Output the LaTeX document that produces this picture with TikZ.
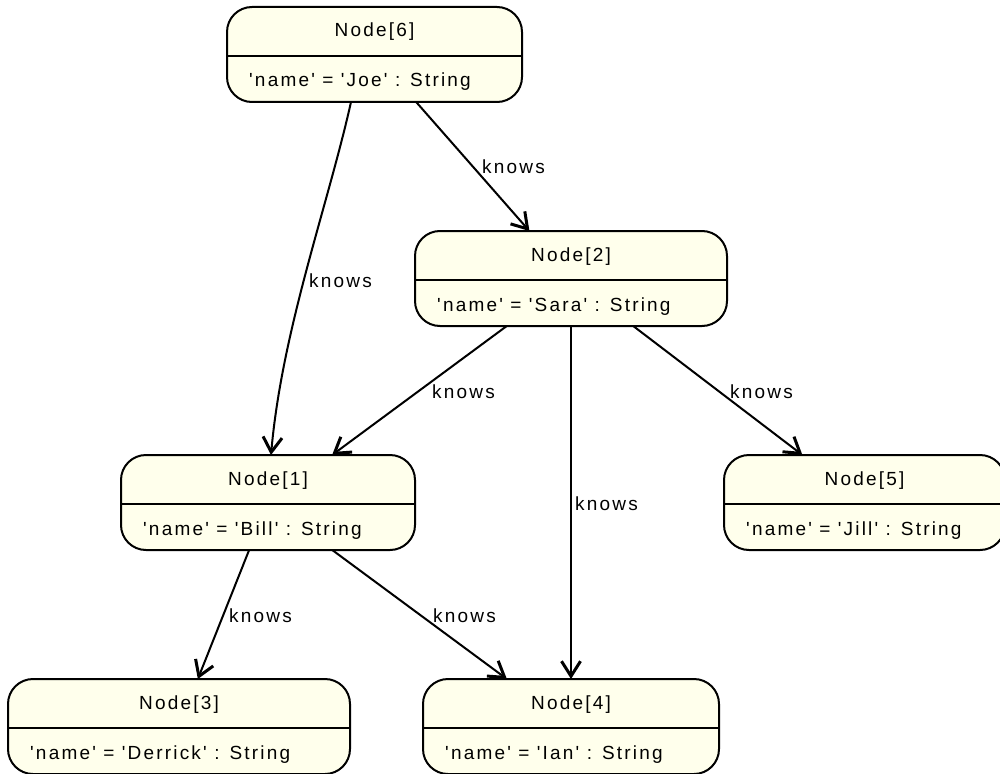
\documentclass[tikz,border=0pt]{standalone}
\usepackage{fontspec}
\setmainfont{Liberation Sans}[LetterSpace=11.5,Ligatures=TeXOff]
\usetikzlibrary{arrows.meta,calc}
\definecolor{boxfill}{RGB}{255,255,236}
\newcommand\dfont{\fontsize{19}{21}\selectfont}
% #1 name, #2 left, #3 top, #4 width, #5 title, #6 attribute
\newcommand\classbox[6]{%
  \node[umlbox, minimum width=#4pt, minimum height=95pt] (#1) at ({#2+#4/2},{#3+47.5}) {};
  \draw[divider] (#2,{#3+49}) -- ({#2+#4},{#3+49});
  \node[titletext] (#1t) at ({#2+#4/2},{#3+30}) {#5};
  \node[attrtext] (#1a) at ({#2+22},{#3+80}) {#6};
}
\begin{document}
\begin{tikzpicture}[x=1pt,y=-1pt,
  umlbox/.style={draw=black, line width=2pt, fill=boxfill, rounded corners=25pt, inner sep=0pt, outer sep=0pt},
  divider/.style={line width=2pt},
  titletext/.style={anchor=base, inner sep=0pt, font=\dfont},
  attrtext/.style={anchor=base west, inner sep=0pt, font=\dfont},
  rel/.style={line width=2pt, -{Straight Barb[length=15pt,width=19pt,line width=3pt]}},
  lbl/.style={anchor=base west, inner sep=0pt, font=\dfont}]
\useasboundingbox (0,0) rectangle (1000,773);

\classbox{n6}{227}{7}{295}{Node[6]}{'name' = 'Joe' : String}
\classbox{n2}{415}{231}{312}{Node[2]}{'name' = 'Sara' : String}
\classbox{n1}{121}{455}{294}{Node[1]}{'name' = 'Bill' : String}
\classbox{n5}{724}{455}{281}{Node[5]}{'name' = 'Jill' : String}
\classbox{n3}{8}{679}{342}{Node[3]}{'name' = 'Derrick' : String}
\classbox{n4}{423}{679}{296}{Node[4]}{'name' = 'Ian' : String}

\draw[rel] (n6) -- (n2);
\draw[rel] ([xshift=-23.5pt]n6.south) .. controls (328,205) and (282,330) .. ([xshift=3pt]n1.north);
\draw[rel] (n2) -- (n1);
\draw[rel] (n2) -- (n4);
\draw[rel] (n2) -- (n5);
\draw[rel] (n1) -- (n3);
\draw[rel] (n1) -- (n4);

\node[lbl] (k62) at (482,173) {knows};
\node[lbl] (k61) at (309,287) {knows};
\node[lbl] (k21) at (432,398) {knows};
\node[lbl] (k24) at (575,510) {knows};
\node[lbl] (k25) at (730,398) {knows};
\node[lbl] (k13) at (229,622) {knows};
\node[lbl] (k14) at (433,622) {knows};
\end{tikzpicture}
\end{document}
